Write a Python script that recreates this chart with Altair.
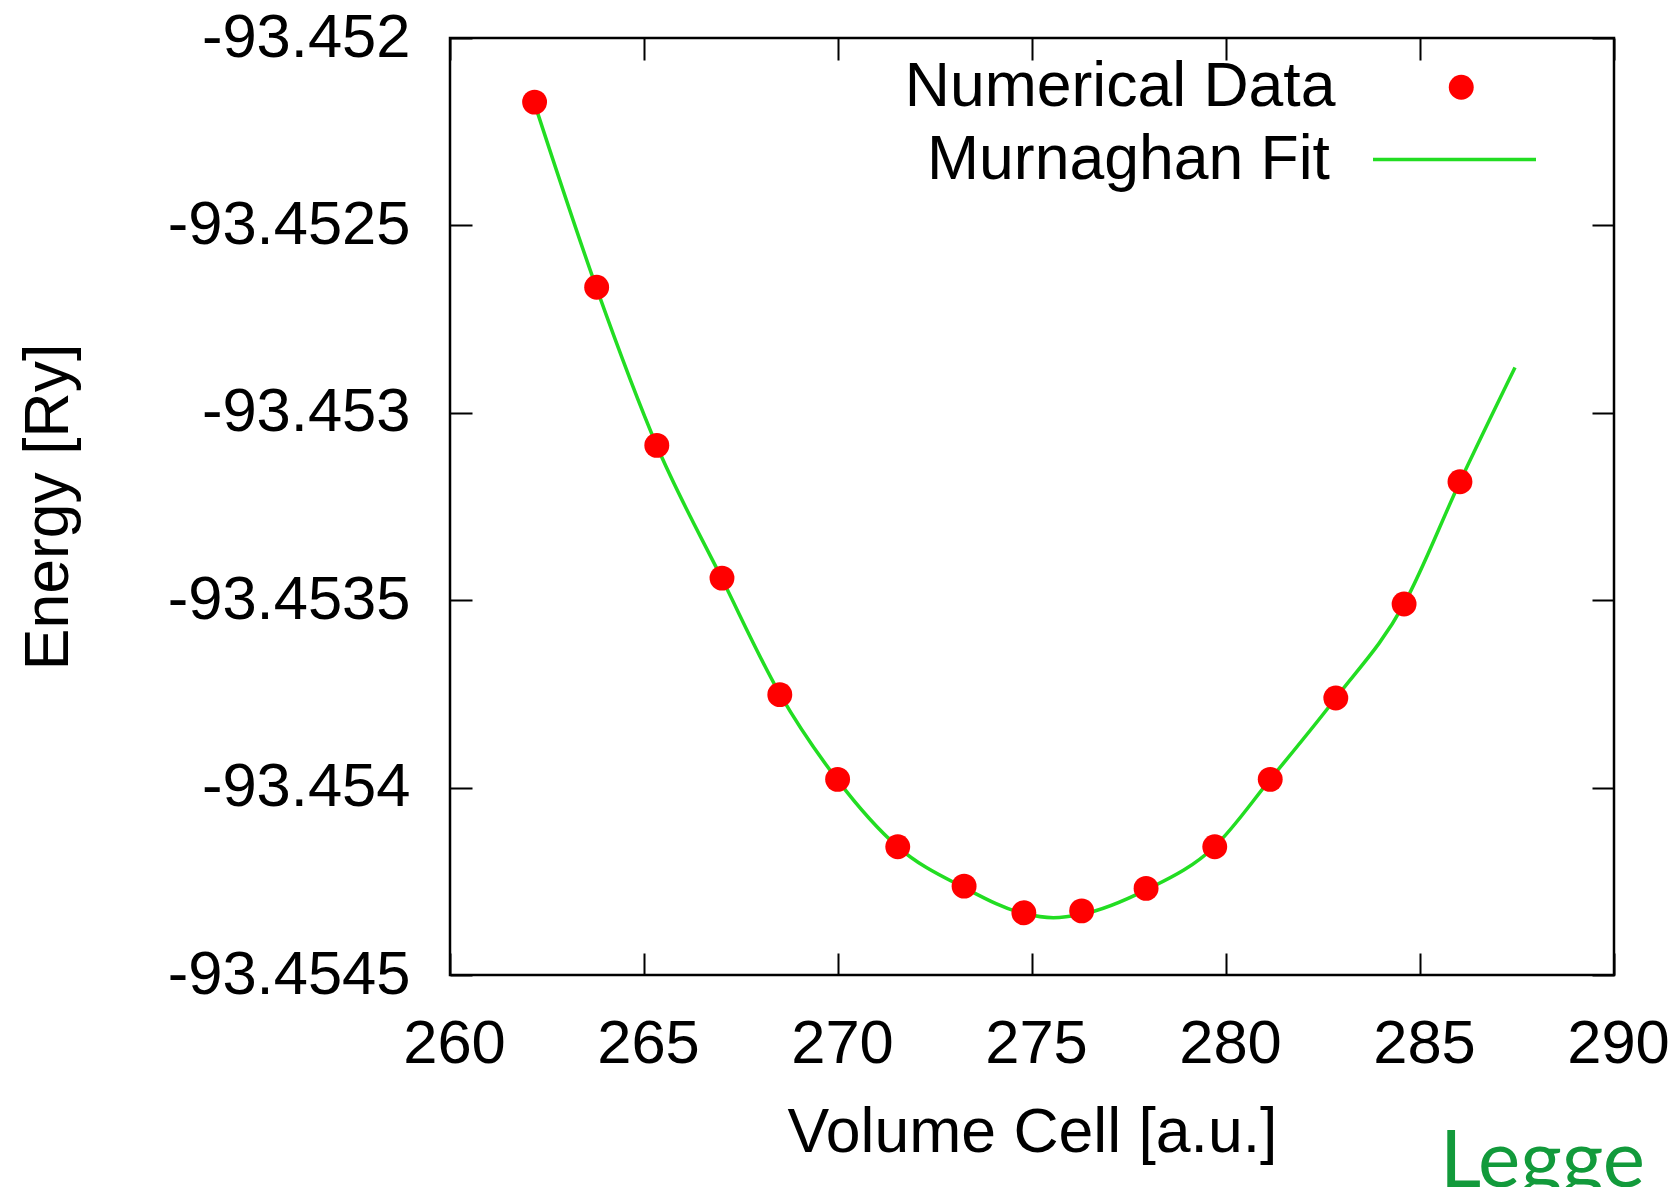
import altair as alt
import pandas as pd

# ---- data ----
volume = [262.18, 263.78, 265.33, 267.01, 268.50, 269.99, 271.54, 273.25,
          274.79, 276.28, 277.94, 279.71, 281.14, 282.83, 284.59, 286.03]
energy = [-93.452171, -93.452665, -93.453087, -93.453441, -93.453752, -93.453978,
          -93.454158, -93.454263, -93.454334, -93.454329, -93.454269, -93.454158,
          -93.453978, -93.453761, -93.453510, -93.453184]

fit_volume = [262.18, 263.78, 265.33, 267.01, 268.50, 269.99, 271.54, 273.25, 274.79,
              275.55, 276.28, 277.94, 279.71, 281.14, 282.83, 284.59, 286.03, 287.45]
fit_energy = [-93.452175, -93.452668, -93.453088, -93.453443, -93.453750, -93.453980,
              -93.454158, -93.454267, -93.454336, -93.454347, -93.454338, -93.454273,
              -93.454157, -93.453978, -93.453761, -93.453510, -93.453184, -93.452879]

x_ticks = [260, 265, 270, 275, 280, 285, 290]
y_ticks = [-93.452, -93.4525, -93.453, -93.4535, -93.454, -93.4545]

W, H = 1164, 937
TICK = 22
FONT = "Liberation Sans"
LABEL_SIZE = 61.5
TEXT_SIZE = 62.5

pts = pd.DataFrame({"volume": volume, "energy": energy, "series": "Numerical Data"})
fit = pd.DataFrame({"volume": fit_volume, "energy": fit_energy, "fit": "Murnaghan Fit"})

x_enc = alt.X(
    "volume:Q",
    scale=alt.Scale(domain=[260, 290], nice=False, zero=False),
    axis=alt.Axis(
        values=x_ticks, format="d", title="Volume Cell [a.u.]",
        ticks=False, tickSize=0, domain=False, labelPadding=38, labelOffset=4,
        labelFlush=False, labelOverlap=False, labelLimit=400,
        grid=True, gridColor="black", gridWidth=2, gridOpacity=1,
        gridDash=[TICK, H - 2 * TICK, TICK],
        titleX=W / 2, titleY=157, titleBaseline="middle",
    ),
)
y_enc = alt.Y(
    "energy:Q",
    scale=alt.Scale(domain=[-93.4545, -93.452], nice=False, zero=False),
    axis=alt.Axis(
        values=y_ticks, title="Energy [Ry]",
        labelExpr="replace(format(datum.value, '.4~f'), '\u2212', '-')",
        ticks=False, tickSize=0, domain=False, labelPadding=40,
        labelFlush=False, labelOverlap=False, labelLimit=400,
        grid=True, gridColor="black", gridWidth=2, gridOpacity=1,
        gridDash=[TICK, W - 2 * TICK, TICK],
        titleX=-402, titleY=H / 2, titleAngle=270, titleBaseline="middle",
        titleAlign="center",
    ),
)

line = alt.Chart(fit).mark_line(strokeWidth=3.5, interpolate="monotone").encode(
    x=x_enc, y=y_enc,
    stroke=alt.Stroke(
        "fit:N",
        scale=alt.Scale(domain=["Murnaghan Fit"], range=["#22dd22"]),
        legend=alt.Legend(
            title=None, orient="none", legendX=921, legendY=38, padding=0,
            symbolType="stroke", symbolSize=163 * 163, symbolStrokeWidth=3.5,
            labelAlign="right", labelOffset={"expr": "-208"}, labelFont=FONT,
            labelFontSize=TEXT_SIZE, labelLimit=1000, labelColor="black",
        ),
    ),
)

points = alt.Chart(pts).mark_circle(size=620, opacity=1).encode(
    x=x_enc, y=y_enc,
    color=alt.Color(
        "series:N",
        scale=alt.Scale(domain=["Numerical Data"], range=["#ff0000"]),
        legend=alt.Legend(
            title=None, orient="none", legendX=980, legendY=18, padding=0,
            symbolType="circle", symbolSize=620, symbolStrokeWidth=0,
            symbolOpacity=1, labelAlign="right", labelOffset={"expr": "-157"},
            labelFont=FONT, labelFontSize=TEXT_SIZE, labelLimit=1000, labelColor="black",
        ),
    ),
)

chart = alt.layer(line, points).resolve_legend(color="independent", stroke="independent").properties(
    width=W, height=H,
    autosize=alt.AutoSizeParams(type="none"),
    padding={"left": 442, "top": 30, "right": 56, "bottom": 212},
    title=alt.Title(
        "Legge", orient="bottom", anchor="end", frame="group", font="Lato",
        fontSize=80, fontWeight="normal", color="#129a3b", offset=-40, dx=31,
    ),
    background="white",
).configure_axis(
    labelFont=FONT, labelFontSize=LABEL_SIZE, labelColor="black",
    titleFont=FONT, titleFontSize=TEXT_SIZE, titleFontWeight="normal", titleColor="black",
).configure_view(stroke="black", strokeWidth=2.5)

chart.save("out.html", embed_options={"renderer": "svg", "actions": False})
